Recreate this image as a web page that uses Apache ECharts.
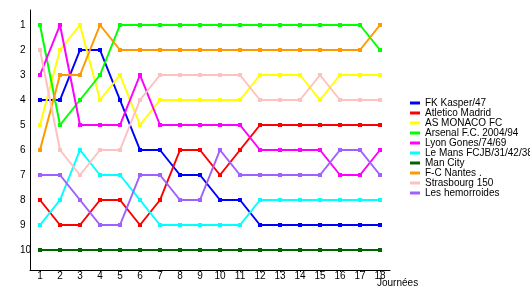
<!DOCTYPE html>
<html>
<head>
<meta charset="utf-8">
<script src="https://cdn.jsdelivr.net/npm/echarts@6/dist/echarts.min.js"></script>
<style>html,body{margin:0;padding:0;background:#fff}#c{width:530px;height:300px}</style>
</head>
<body>
<div id="c"></div>
<script>
var journees = [1,2,3,4,5,6,7,8,9,10,11,12,13,14,15,16,17,18];
var rankTicks = [1,2,3,4,5,6,7,8,9,10];
var teams = ["FK Kasper/47","Atletico Madrid","AS MONACO FC","Arsenal F.C. 2004/94","Lyon Gones/74/69","Le Mans FCJB/31/42/38","Man City","F-C Nantes .","Strasbourg 150","Les hemorroides"];
var colors = ["#0000ff","#ff0000","#ffff00","#00ff00","#ff00ff","#00ffff","#006400","#ff9900","#ffc0c0","#a060ff"];
var fkKasper   = [4,4,2,2,4,6,6,7,7,8,8,9,9,9,9,9,9,9];
var atletico   = [8,9,9,8,8,9,8,6,6,7,6,5,5,5,5,5,5,5];
var monaco     = [5,2,1,4,3,5,4,4,4,4,4,3,3,3,4,3,3,3];
var arsenal    = [1,5,4,3,1,1,1,1,1,1,1,1,1,1,1,1,1,2];
var lyon       = [3,1,5,5,5,3,5,5,5,5,5,6,6,6,6,7,7,6];
var leMans     = [9,8,6,7,7,8,9,9,9,9,9,8,8,8,8,8,8,8];
var manCity    = [10,10,10,10,10,10,10,10,10,10,10,10,10,10,10,10,10,10];
var nantes     = [6,3,3,1,2,2,2,2,2,2,2,2,2,2,2,2,2,1];
var strasbourg = [2,6,7,6,6,4,3,3,3,3,3,4,4,4,3,4,4,4];
var hemorroides= [7,7,8,9,9,7,7,8,8,6,7,7,7,7,7,6,6,7];
var allData = [fkKasper,atletico,monaco,arsenal,lyon,leMans,manCity,nantes,strasbourg,hemorroides];

var font = "Liberation Sans";
var series = teams.map(function(name, i){
  return {
    name: name, type: 'line', data: allData[i].map(function(v, k){ return [journees[k], v]; }),
    symbol: 'rect', symbolSize: 4, showSymbol: true,
    lineStyle: {width: 2, color: colors[i]}, itemStyle: {color: colors[i]},
    animation: false, silent: true
  };
});

var chart = echarts.init(document.getElementById('c'));
chart.setOption({
  animation: false,
  title: {text: 'Journées', left: 377, top: 278, textStyle: {fontFamily: font, fontSize: 10, fontWeight: 'normal', color: '#000'}, padding: 0},
  grid: {left: 30, right: 140, top: 10, bottom: 30},
  legend: {
    orient: 'vertical', left: 410, top: 98, padding: 0, itemGap: 0,
    itemWidth: 10, itemHeight: 3, icon: 'rect',
    textStyle: {fontFamily: font, fontSize: 10, lineHeight: 10, color: '#000', padding: [0,0,0,0]},
    data: teams
  },
  xAxis: {
    type: 'value', min: 0.5, max: 18.5,
    axisLine: {onZero: false, lineStyle: {color: '#000', width: 1}},
    axisTick: {show: true, length: 2, customValues: journees, lineStyle: {color: '#000'}},
    axisLabel: {customValues: journees, margin: 1, fontFamily: font, fontSize: 10, color: '#000'},
    splitLine: {show: false}
  },
  yAxis: {
    type: 'value', inverse: true, min: 0.4, max: 10.8,
    axisLine: {show: true, onZero: false, lineStyle: {color: '#000', width: 1}},
    axisTick: {show: false},
    axisLabel: {customValues: rankTicks, margin: 10, align: 'left', fontFamily: font, fontSize: 10, color: '#000'},
    splitLine: {show: false}
  },
  series: series
});
</script>
</body>
</html>
